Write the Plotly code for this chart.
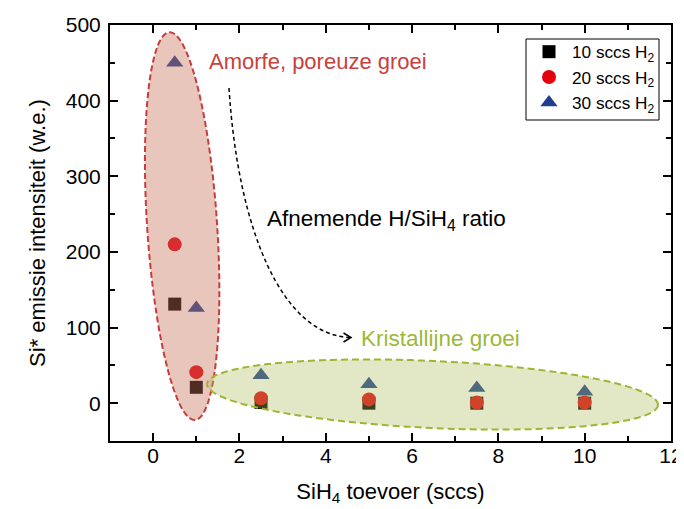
import math
import plotly.graph_objects as go

# ---- data ----
x_vals = [0.5, 1, 2.5, 5, 7.5, 10]
h2_10 = [131, 21, 1, 0, 0, 0]
h2_20 = [210, 41, 6.5, 5, 1, 1]
h2_30 = [450, 126, 37, 25, 20, 15]
series_names = ["10 sccs H<sub>2</sub>", "20 sccs H<sub>2</sub>", "30 sccs H<sub>2</sub>"]
x_ticks = [0, 2, 4, 6, 8, 10, 12]
y_ticks = [0, 100, 200, 300, 400, 500]

# page has an 8px body margin: figure is drawn at (8,8) in the 684x509 window
OFF = 8
SW, SH = 684, 509
W, H = SW - OFF, SH - OFF
L, R, T, B = 110, 671, 25, 441          # plot frame in screen pixels
XR = [-1, 12]
YR = [-50, 500]
FONT = "Liberation Sans, Arial, sans-serif"


def px2x(px):
    return XR[0] + (px - L) / (R - L) * (XR[1] - XR[0])


def py2y(py):
    return YR[1] - (py - T) / (B - T) * (YR[1] - YR[0])


def px2paper(px):
    return (px - L) / (R - L)


def py2paper(py):
    return (B - py) / (B - T)


def ellipse_path(p1, p2, b, n=120):
    cx, cy = (p1[0] + p2[0]) / 2, (p1[1] + p2[1]) / 2
    dx, dy = p2[0] - p1[0], p2[1] - p1[1]
    a = math.hypot(dx, dy) / 2
    ux, uy = dx / (2 * a), dy / (2 * a)
    vx, vy = -uy, ux
    pts = []
    for i in range(n):
        t = 2 * math.pi * i / n
        px = cx + a * math.cos(t) * ux + b * math.sin(t) * vx
        py = cy + a * math.cos(t) * uy + b * math.sin(t) * vy
        pts.append((px2x(px), py2y(py)))
    return "M " + " L ".join(f"{x:.4f},{y:.4f}" for x, y in pts) + " Z"


fig = go.Figure()
fig.add_trace(go.Scatter(x=x_vals, y=h2_10, mode="markers", name=series_names[0],
                         marker=dict(symbol="square", size=13, color="#000000")))
fig.add_trace(go.Scatter(x=x_vals, y=h2_20, mode="markers", name=series_names[1],
                         marker=dict(symbol="circle", size=14, color="#e3000f")))
fig.add_trace(go.Scatter(x=x_vals, y=h2_30, mode="markers", name=series_names[2],
                         marker=dict(symbol="triangle-up", size=15, color="#1f3e8f")))

shapes = []
# red ellipse
shapes.append(dict(type="path", xref="x", yref="y", layer="above",
                   path=ellipse_path((169.3, 32.3), (195, 420), 35),
                   fillcolor="rgba(198,112,88,0.40)",
                   line=dict(color="#c83c3c", width=2, dash="6px,3px")))
# green ellipse
shapes.append(dict(type="path", xref="x", yref="y", layer="above",
                   path=ellipse_path((207, 384), (658, 405), 33.5),
                   fillcolor="rgba(172,189,92,0.35)",
                   line=dict(color="#a0b432", width=2, dash="7px,4px")))
# curved arrow
p0 = (229, 88); p1 = (238, 230); p2 = (282, 335); p3 = (350, 337.5)
arrow = "M {},{} C {},{} {},{} {},{}".format(
    px2x(p0[0]), py2y(p0[1]), px2x(p1[0]), py2y(p1[1]),
    px2x(p2[0]), py2y(p2[1]), px2x(p3[0]), py2y(p3[1]))
shapes.append(dict(type="path", xref="x", yref="y", layer="above", path=arrow,
                   line=dict(color="#000000", width=1.5, dash="4px,3px")))
head = "M {},{} L {},{} L {},{}".format(
    px2x(343.5), py2y(333.0), px2x(351), py2y(337.5), px2x(343.5), py2y(342))
shapes.append(dict(type="path", xref="x", yref="y", layer="above", path=head,
                   line=dict(color="#000000", width=1.5)))
# legend frame
shapes.append(dict(type="rect", xref="paper", yref="paper", layer="above",
                   x0=px2paper(526), x1=px2paper(659), y0=py2paper(120), y1=py2paper(39),
                   fillcolor="white", line=dict(color="black", width=1)))

annotations = [
    dict(x=px2x(207), y=py2y(61), xref="x", yref="y", text="Amorfe, poreuze groei",
         showarrow=False, xanchor="left", yanchor="middle",
         font=dict(family=FONT, size=22, color="#c8413c")),
    dict(x=px2x(265), y=py2y(219.5), xref="x", yref="y",
         text="Afnemende H/SiH<sub>4</sub> ratio",
         showarrow=False, xanchor="left", yanchor="middle",
         font=dict(family=FONT, size=22.5, color="#000000")),
    dict(x=px2x(359), y=py2y(338), xref="x", yref="y", text="Kristallijne groei",
         showarrow=False, xanchor="left", yanchor="middle",
         font=dict(family=FONT, size=22.5, color="#9bb83a")),
]

axis_common = dict(showline=True, linecolor="black", linewidth=2, mirror="ticks",
                   ticks="inside", ticklen=8, tickwidth=2, tickcolor="black",
                   showgrid=False, zeroline=False, automargin=False,
                   tickfont=dict(family=FONT, size=21, color="#000000"))

fig.update_layout(
    width=W, height=H,
    margin=dict(l=L - OFF, r=SW - R, t=T - OFF, b=SH - B),
    paper_bgcolor="white", plot_bgcolor="white",
    shapes=shapes, annotations=annotations,
    font=dict(family=FONT, color="#000000"),
    xaxis=dict(range=XR, tickvals=x_ticks, ticklabelstandoff=-5,
               minor=dict(dtick=1, ticks="inside", ticklen=5, tickwidth=2, tickcolor="black"),
               title=dict(text="SiH<sub>4</sub> toevoer (sccs)",
                          font=dict(family=FONT, size=22, color="#000000"), standoff=17),
               **axis_common),
    yaxis=dict(range=YR, tickvals=y_ticks, ticklabelstandoff=3,
               minor=dict(dtick=50, ticks="inside", ticklen=5, tickwidth=2, tickcolor="black"),
               title=dict(text="Si* emissie intensiteit (w.e.)",
                          font=dict(family=FONT, size=22, color="#000000"), standoff=14),
               **axis_common),
    legend=dict(x=px2paper(526), y=py2paper(34), xanchor="left", yanchor="top",
                bgcolor="rgba(0,0,0,0)", borderwidth=0,
                font=dict(family=FONT, size=17.2, color="#000000"),
                tracegroupgap=0, itemwidth=36),
    showlegend=True,
)

fig.write_html("out.html")
